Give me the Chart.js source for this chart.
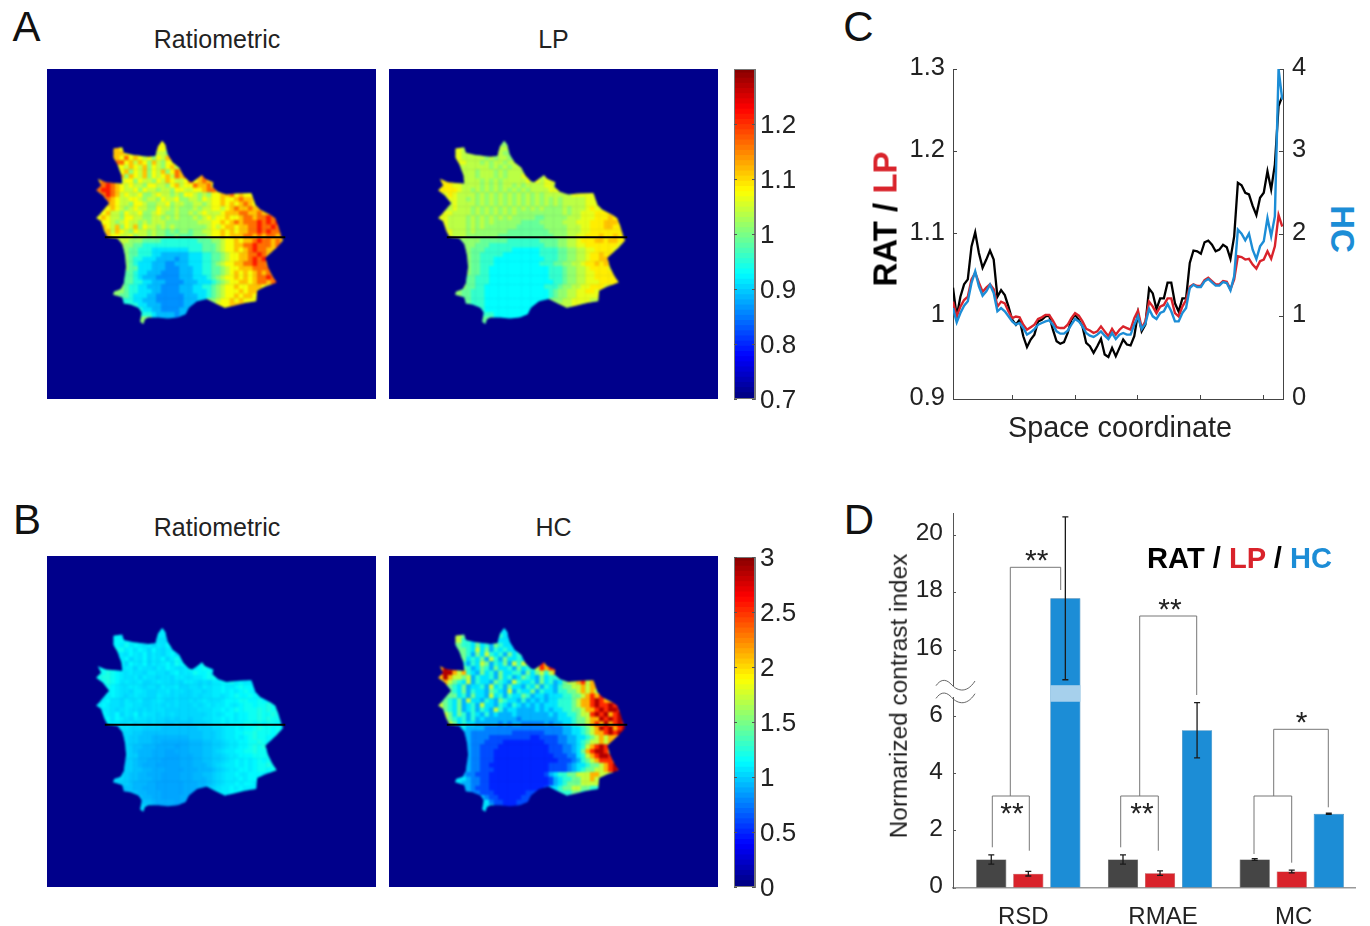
<!DOCTYPE html>
<html><head><meta charset="utf-8">
<style>
html,body{margin:0;padding:0;background:#fff;width:1370px;height:926px;overflow:hidden;font-family:"Liberation Sans",Arial,sans-serif;color:#222}
.t{position:absolute;white-space:nowrap;line-height:1;transform:translate(-50%,-50%)}
.p{position:absolute;background:#00008b;overflow:hidden}
canvas{position:absolute;display:block}
</style>
<script src="https://cdn.jsdelivr.net/npm/chart.js@4/dist/chart.umd.min.js"></script>
</head><body>
<script>
// ---------- DATA ----------
const gridSize = 70;
// which grid cells of each row belong to the cell outline: first row, then [from,to] column spans
const firstRow = 15;
const outlineSpans = [
[[24,24]],[[14,16],[23,25]],[[14,18],[23,25]],[[14,25]],[[15,26]],[[15,27]],[[15,28]],[[15,29]],
[[10,12],[15,34]],[[10,36]],[[10,37]],[[10,43]],[[11,44]],[[12,44]],[[12,45]],[[11,46]],[[10,48]],[[10,49]],[[11,49]],[[11,50]],[[12,50]],
[[15,50]],[[15,49]],[[16,48]],[[16,47]],[[16,47]],[[16,47]],[[16,48]],[[16,48]],[[16,49]],[[14,49]],[[15,46]],[[14,45]],[[16,45]],
[[16,33],[35,44]],[[18,30],[37,41]],[[19,29]],[[20,28]],[[20,20]]];
// the cell's contour
const contourPx = [[333,437],[360,433],[365,450],[395,457],[440,462],[462,460],[470,430],[483,413],[492,425],[500,455],[515,480],[535,495],[548,520],[565,537],[575,540],[590,530],[605,518],[615,530],[640,540],[638,555],[655,570],[680,578],[710,575],[757,573],[770,610],[785,625],[815,640],[830,650],[840,675],[850,710],[855,718],[835,740],[800,772],[808,800],[820,825],[835,848],[800,860],[775,872],[772,905],[740,910],[700,920],[675,925],[640,908],[620,898],[590,905],[565,925],[555,945],[530,955],[500,958],[470,955],[440,955],[430,960],[425,975],[415,968],[420,940],[410,925],[385,915],[365,912],[360,893],[332,885],[335,875],[355,868],[365,850],[372,800],[368,760],[360,730],[345,712],[315,708],[305,690],[295,660],[280,650],[290,640],[305,622],[320,605],[300,580],[280,565],[295,550],[285,530],[310,540],[360,545],[358,520],[345,485],[333,465]];
const ratLevels = {0:.86,1:.885,2:.91,3:.945,4:.98,5:1.01,6:1.04,7:1.07,8:1.11,9:1.16,a:1.21};
const ratRows = ["7","878776","88776665","879787675768","978687586577","7687685765786","78576857685798","858768576786989",
"89967757665768766797898","99a987676657766578677988977","9aa9876675766566577667789987","89a9867667556766565776565778897877",
"8987667765665766755665767787789887","887665776556675665566567787878987","7876567665576656555656677678988988",
"786657667556765565565676667888998898","7876657766556656565556567677877899899a9","87765676656566655555556667787898999a9a9a",
"8768576857665656555555567678878899a99a9","7868765766565545455455667787878899a9a998","877667566565544544455567787888998989989",
"665554444333333334445567787889a99898","65544333333333333344456778899a99989","5443332222222233344456778789a9988",
"54433322111111222334456778899a98","5433222111101122233445677889a9a8","5432221110011122233456778899a998",
"544222111000111223344567788899998","443221110000111223344567878789898","4432111000001112223456778787899a98",
"65443322111000011122234567788789989a","54332211100001112233456778778887","55433222110000111222345677787887",
"432221100000011122345677878877","3322111000000111225677878777","322111000001177888","32211000011","332111101","5"];
const lpLevels = {2:.925,3:.955,4:.985,5:1.01,6:1.035,7:1.06,8:1.085,9:1.11};
const lpRows = ["5","767665","76665655","766666565665","766656566566","6666665656566","66656665656666","666566656566677",
"88866665656566666767677","8887766665656566565666677677","8888766565656565656566667777","7787666656565656565656566666677777",
"7776656565656565656565656566666777","676666565656565656565656566666777","6766656565656565656565555656667877",
"776666565656565655555555556566777888","776666565656565655555445555566677788898","7766665656565555554444555556667778889998",
"766665656555555544444455555666778889988","7766656555555544444444455556667788888888","766655555554444444444445556677888988988",
"555544444433333334444556678889989988","55544433333333333344455667788888887","544433333322222233334455667788887",
"54433333222222223333445566788988","54433322222222222333445566788998","54433322222222223334455667889898",
"544332222222222222333455667888878","544332222222222222333455667788888","4433322222222222223334556677888888",
"554433322222222222222334556677788887","54433222222222222233345566778887","54433322222222222222345566778877",
"433322222222222222345566777776","4333222222222222225566777766","332222222222266776","32222222222","332222222","4"];
const hcLevels = {0:.48,1:.6,2:.75,3:.9,4:1.05,5:1.25,6:1.45,7:1.7,8:2.1,9:2.5,a:2.85};
const hcRows = ["4","765543","75545444","655464536544","654746354544","6536475453645","64546375364454","535476354637576",
"8a965346536445364557989","9aa878543645364455364675789878","8a87767354453645346543645567897","7876547354436543754453645346778978",
"7654634453745364435463543566778788","654635443654373544635443556678787","6645364437453544653443444556678989",
"654637443543654435343434455567889a98","7654634537443543543434344455567889a99a9","76546345354375344333343434455667889a9aa9",
"764653543534333433333334344556779a9a89a","7654535343333333233333333444566788a9a9a9","7645443333323233222223233445667898a89a9",
"433332222222222222222233445678a9a89a","33222222222111111122223344567889a9a","322221111111110011112233445678788",
"32221111000000000111223345677878","32211110000000000011122345789a98","3221110000000000001112234689aa97",
"32211100000000000001112245789aa98","322111000000000000001112356789998","32211000000000000011112344566789a9",
"4332211100000000000011112345667789a9","32211100000000000013455667778877","44322110000000000000134556677877",
"322110000000000000134566677776","3211100000000000014566776655","211100000001155665","32110000011","421100011","4"];

const ratTrace = [1.035,1,1.024,1.039,1.045,1.085,1.102,1.077,1.059,1.069,1.08,1.069,1.024,1.032,1.026,1.012,.996,.99,.996,.976,.963,.972,.978,.994,.996,1,1.001,.984,.97,.967,.969,.98,.996,1.002,.996,.988,.968,.964,.956,.964,.973,.954,.951,
.962,.952,.962,.972,.966,.965,.976,1.004,.982,.99,1.034,1.028,1.009,1.022,1.022,1.041,1.041,1.016,1.006,1.022,1.022,1.065,1.08,1.079,1.076,1.09,1.092,1.087,1.079,1.081,1.087,1.084,1.07,1.097,1.162,1.159,1.15,1.148,1.134,1.123,1.144,1.15,1.176,1.154,1.184,1.255,1.267];
const lpTrace = [1.018,1,1.012,1.02,1.024,1.045,1.053,1.041,1.03,1.035,1.039,1.033,1.012,1.018,1.016,1.006,.998,1,.999,.99,.984,.987,.99,.997,.999,1.002,1.002,.995,.987,.986,.986,.99,.998,1.004,1.001,.994,.985,.983,.98,.982,.988,.982,.976,
.985,.978,.984,.988,.986,.984,.998,1.007,.986,.994,1.018,1.012,1.004,1.012,1.014,1.022,1.022,1.004,1,1.012,1.02,1.036,1.039,1.037,1.037,1.044,1.047,1.043,1.039,1.039,1.043,1.042,1.033,1.045,1.073,1.072,1.069,1.07,1.063,1.058,1.067,1.069,1.079,1.07,1.085,1.123,1.109];
const hcTrace = [1.103,.929,1.042,1.131,1.184,1.406,1.547,1.366,1.253,1.305,1.386,1.285,1.063,1.103,1.063,1.002,.941,.901,.921,.861,.78,.808,.848,.901,.921,.941,.954,.901,.82,.792,.792,.828,.901,.97,.941,.881,.8,.768,.752,.78,.82,.768,.727,
.8,.727,.78,.8,.78,.78,.901,1.002,.848,.913,1.091,1.002,.97,1.042,1.063,1.152,1.063,.941,.941,1.042,1.103,1.345,1.386,1.358,1.358,1.426,1.455,1.414,1.374,1.374,1.418,1.406,1.317,1.487,2.053,2.004,1.923,2.004,1.81,1.697,1.851,1.911,2.194,1.972,2.214,4,3.63];
const traceTicks = [16,33,50,67,84];
const ratioTicks = [.9,1,1.1,1.2,1.3];
const hcAxisTicks = [0,1,2,3,4];

const barLabels = ["RSD","RMAE","MC"];
const barRat = [1,1,1];
const barLp = [.5,.52,.58];
const barHc = [17.8,5.53,2.6];
const errRat = [.16,.16,.03];
const errLp = [.08,.08,.05];
const errHc = [2.83,.97,.02];
const contrastTicks = [0,2,4,6,16,18,20];
const cbTicksA = [.7,.8,.9,1,1.1,1.2];
const cbTicksB = [0,.5,1,1.5,2,2.5,3];

// ---------- HELPERS ----------
const FONT = '"Liberation Sans"';
const INK = '#222', RED = '#d9232b', BLUE = '#1c8dd6';
Chart.defaults.animation = false;
Chart.defaults.responsive = false;
Chart.defaults.font.family = FONT;
Chart.defaults.color = INK;
Chart.defaults.plugins.legend.display = false;
Chart.defaults.plugins.tooltip.enabled = false;

// linear scale whose tick labels can sit a little above or below their ticks
class ShiftLinear extends Chart.LinearScale {
  _computeLabelItems(area) {
    const items = super._computeLabelItems(area), d = this.options.labelShift || 0;
    items.forEach(it => { it.options.translation = [it.options.translation[0], it.options.translation[1] + d]; });
    return items;
  }
}
ShiftLinear.id = 'shiftLinear';
ShiftLinear.defaults = Chart.LinearScale.defaults;
Chart.register(ShiftLinear);

function text(html, x, y, size, extra) {
  const d = document.createElement('div');
  d.className = 't'; d.innerHTML = html;
  d.style.left = x + 'px'; d.style.top = y + 'px'; d.style.fontSize = size + 'px';
  if (extra) Object.assign(d.style, extra);
  document.body.appendChild(d);
  return d;
}
function canvas(parent, x, y, w, h) {
  const c = document.createElement('canvas');
  c.width = w; c.height = h; c.style.left = x + 'px'; c.style.top = y + 'px';
  c.style.width = w + 'px'; c.style.height = h + 'px';
  parent.appendChild(c);
  return c.getContext('2d');
}
function jet(t) {
  const f = k => Math.round(255 * Math.max(0, Math.min(1, 1.5 - Math.abs(4 * t - k))));
  return `rgb(${f(3)},${f(2)},${f(1)})`;
}
function fixedTicks(vals) { return s => { s.ticks = vals.map(v => ({value: v})); }; }
function noMarginsV(w) { return s => { s.width = w; s.paddingTop = 0; s.paddingBottom = 0; }; }
function noMarginsH(h) { return s => { s.height = h; s.paddingLeft = 0; s.paddingRight = 0; }; }

// ---------- HEAT PANELS ----------
const contourGrid = contourPx.map(([a, b]) => [(a / 3 - 47) / 4.7, (b / 3 - 68.5) / 4.7]);
function heatPanel(x, y, w, h, rows, levels, lo, hi) {
  const div = document.createElement('div');
  div.className = 'p';
  Object.assign(div.style, {left: x + 'px', top: y + 'px', width: w + 'px', height: h + 'px'});
  document.body.appendChild(div);
  const cell = new Map();
  outlineSpans.forEach((spans, i) => {
    const s = rows[i]; let k = 0;
    spans.forEach(([a, b]) => {
      for (let c = a; c <= b; c++) {
        cell.set(c + ',' + (firstRow + i), s[Math.min(k, s.length - 1)]); k++;
      }
    });
  });
  const pts = [], cols = [];
  for (let r = firstRow - 2; r < firstRow + outlineSpans.length + 2; r++) for (let c = 7; c <= 53; c++) {
    let ch = cell.get(c + ',' + r);
    // cells just outside the span table borrow their neighbour, the contour trims them
    for (let d = 1; d <= 3 && !ch; d++) {
      for (const [dx, dy] of [[d,0],[-d,0],[0,d],[0,-d],[d,d],[-d,d],[d,-d],[-d,-d]]) {
        ch = cell.get((c + dx) + ',' + (r + dy)); if (ch) break;
      }
    }
    if (!ch) continue;
    pts.push({x: c + .5, y: r + .5});
    cols.push(jet((levels[ch] - lo) / (hi - lo)));
  }
  const scales = {
    x: {type: 'linear', min: 0, max: gridSize, display: false},
    y: {type: 'linear', min: 0, max: gridSize, reverse: true, display: false}
  };
  const ctx = canvas(div, 0, 0, w, h);
  ctx.canvas.style.filter = 'blur(0.8px)';
  new Chart(ctx, {
    type: 'scatter',
    data: {datasets: [{data: pts, backgroundColor: cols, pointStyle: 'rect', pointRadius: 3.6, borderWidth: 0}]},
    options: {layout: {padding: 0}, scales},
    plugins: [{id: 'contourClip',
      beforeDatasetDraw(c) {
        const g = c.ctx;
        g.save(); g.beginPath();
        contourGrid.forEach(([a, b], i) => {
          const px = c.scales.x.getPixelForValue(a), py = c.scales.y.getPixelForValue(b);
          i ? g.lineTo(px, py) : g.moveTo(px, py);
        });
        g.closePath(); g.clip();
      },
      afterDatasetDraw(c) { c.ctx.restore(); }
    }]
  });
  new Chart(canvas(div, 0, 0, w, h), {
    type: 'scatter',
    data: {datasets: [{showLine: true, data: [{x: 12.3, y: 35.7}, {x: 50.7, y: 35.7}], borderColor: '#000', borderWidth: 2, pointRadius: 0}]},
    options: {layout: {padding: 0}, scales}
  });
}
heatPanel(47, 68.5, 329, 330.5, ratRows, ratLevels, .7, 1.3);
heatPanel(389, 68.5, 329, 330.5, lpRows, lpLevels, .7, 1.3);
heatPanel(47, 556, 329, 331, ratRows, ratLevels, 0, 3);
heatPanel(389, 556, 329, 331, hcRows, hcLevels, 0, 3);

// ---------- COLOUR BARS ----------
function colorBar(top, height, lo, hi, ticks) {
  const ctx = canvas(document.body, 734, top - 16, 80, height + 32);
  const n = 64, step = (hi - lo) / n, ds = [];
  for (let i = 0; i < n; i++) {
    const a = lo + i * step;
    ds.push({data: [[a, Math.min(hi, a + step * 1.25)]], backgroundColor: jet((i + .5) / n), borderWidth: 0, grouped: false,
      barPercentage: 1, categoryPercentage: 1});
  }
  new Chart(ctx, {
    type: 'bar',
    data: {labels: [''], datasets: ds},
    options: {
      layout: {padding: {top: 16, bottom: 16, left: 0, right: 0}},
      scales: {
        x: {display: false},
        y: {type: 'shiftLinear', labelShift: 2, position: 'right', min: lo, max: hi, afterBuildTicks: fixedTicks(ticks), afterFit: noMarginsV(59),
          grid: {drawOnChartArea: false, drawTicks: false},
          border: {color: '#777'},
          ticks: {padding: 5, font: {size: 26}, color: INK, callback: v => String(+v.toFixed(1)), autoSkip: false}}
      }
    },
    plugins: [{id: 'frame', afterDraw(c) {
      const a = c.chartArea, g = c.ctx;
      g.save(); g.strokeStyle = '#777'; g.lineWidth = 1;
      g.strokeRect(a.left + .5, a.top + .5, a.width - 1, a.height - 1);
      g.strokeStyle = '#555';
      const sc = c.scales.y;
      ticks.forEach(v => { const p = Math.round(sc.getPixelForValue(v)) + .5; g.beginPath(); g.moveTo(a.left, p); g.lineTo(a.left + 3, p); g.moveTo(a.right, p); g.lineTo(a.right - 3, p); g.stroke(); });
      g.restore();
    }}]
  });
}
colorBar(69, 330, .7, 1.3, cbTicksA);
colorBar(557, 330, 0, 3, cbTicksB);

// ---------- PANEL C ----------
const axisCol = '#444';
const tr = a => a.map((y, i) => ({x: i, y}));
new Chart(canvas(document.body, 895, 50, 425, 365), {
  type: 'line',
  data: {datasets: [
    {data: tr(ratTrace), borderColor: '#000', borderWidth: 2.3, pointRadius: 0, yAxisID: 'y', order: 3},
    {data: tr(lpTrace), borderColor: RED, borderWidth: 2.4, pointRadius: 0, yAxisID: 'y', order: 2},
    {data: tr(hcTrace), borderColor: BLUE, borderWidth: 2.4, pointRadius: 0, yAxisID: 'y2', order: 1}
  ]},
  options: {
    layout: {padding: {top: 19}},
    scales: {
      x: {type: 'linear', min: 0, max: 89.2, afterBuildTicks: fixedTicks(traceTicks), afterFit: noMarginsH(16),
        grid: {drawOnChartArea: false, tickLength: -4, color: axisCol}, border: {color: axisCol}, ticks: {display: false}},
      y: {type: 'shiftLinear', labelShift: -1.5, position: 'left', min: .9, max: 1.3, afterBuildTicks: fixedTicks(ratioTicks), afterFit: noMarginsV(58),
        grid: {drawOnChartArea: false, tickLength: -4, color: axisCol}, border: {color: axisCol},
        ticks: {padding: 12, font: {size: 25.5}, color: INK, callback: v => String(+v.toFixed(1)), autoSkip: false}},
      y2: {type: 'shiftLinear', labelShift: -1.5, position: 'right', min: 0, max: 4, afterBuildTicks: fixedTicks(hcAxisTicks), afterFit: noMarginsV(37),
        grid: {drawOnChartArea: false, tickLength: -4, color: axisCol}, border: {color: axisCol},
        ticks: {padding: 13, font: {size: 25.5}, color: INK, callback: v => String(v), autoSkip: false}}
    }
  }
});

// ---------- PANEL D ----------
const upperStart = 16, unitLow = 28.5, unitHigh = 28.75, upperOffset = 237.7, axisPx = 374.7;
class BrokenScale extends ShiftLinear {
  getPixelForValue(v) {
    const off = v <= 7.5 ? v * unitLow : (v - upperStart) * unitHigh + upperOffset;
    return this.getPixelForDecimal(off / axisPx);
  }
}
BrokenScale.id = 'brokenLinear';
BrokenScale.defaults = Chart.LinearScale.defaults;
const labelNudge = [-5, 3, 2];
class ShiftedCategory extends Chart.CategoryScale {
  configure() { super.configure(); this._startValue = -.5718; this._valueRange = 3.052; }
  getPixelForTick(i) { return super.getPixelForTick(i) + labelNudge[i]; }
}
ShiftedCategory.id = 'shiftedCategory';
ShiftedCategory.defaults = Chart.CategoryScale.defaults;
Chart.register(BrokenScale, ShiftedCategory);

const errs = [errRat, errLp, errHc];
const brackets = [
  [[992.3,847.3],[992.3,796],[1029.3,796],[1029.3,850.7]],
  [[1010.3,796],[1010.3,567.3],[1060.7,567.3],[1060.7,590]],
  [[1120.7,847.3],[1120.7,796],[1158.3,796],[1158.3,850.7]],
  [[1139.7,796],[1139.7,616],[1196.7,616],[1196.7,695]],
  [[1254,854],[1254,796],[1291.7,796],[1291.7,862.7]],
  [[1273.7,796],[1273.7,729.3],[1328.3,729.3],[1328.3,807.3]]
];
const stars = [["**",1012,808],["**",1036.7,555.7],["**",1142,808],["**",1170,604],["*",1301.7,717]];
const OX = 905, OY = 500;
new Chart(canvas(document.body, OX, OY, 455, 426), {
  type: 'bar',
  data: {labels: barLabels, datasets: [
    {data: barRat, backgroundColor: '#454545', borderColor: '#333', borderWidth: .6},
    {data: barLp, backgroundColor: RED, borderColor: '#a8262a', borderWidth: .6},
    {data: barHc, backgroundColor: BLUE, borderColor: '#1a6fa8', borderWidth: .6}
  ]},
  options: {
    layout: {padding: {top: 13, right: 5}},
    datasets: {bar: {categoryPercentage: .85, barPercentage: .815}},
    scales: {
      x: {type: 'shiftedCategory', afterFit: noMarginsH(38),
        grid: {display: false, drawTicks: false}, border: {color: '#999', width: 1.6},
        ticks: {padding: 15, font: {size: 24}, color: INK, maxRotation: 0, autoSkip: false}},
      y: {type: 'brokenLinear', labelShift: -2, min: 0, max: 20.76, afterBuildTicks: fixedTicks(contrastTicks), afterFit: noMarginsV(48),
        grid: {drawOnChartArea: false, tickLength: -3, color: '#555'}, border: {color: '#555'},
        ticks: {padding: 13, font: {size: 24.5}, color: INK, callback: v => String(v), autoSkip: false}}
    }
  },
  plugins: [{id: 'annot', afterDatasetsDraw(c) {
    const g = c.ctx, ys = c.scales.y;
    // pale band where the tall bar crosses the axis break
    const b = c.getDatasetMeta(2).data[0];
    g.save();
    g.fillStyle = '#a6d0ec';
    const t = ys.getPixelForValue(7.11), u = ys.getPixelForValue(6.53);
    g.fillRect(b.x - b.width / 2, t, b.width, u - t);
    // error bars
    errs.forEach((arr, di) => {
      c.getDatasetMeta(di).data.forEach((el, i) => {
        const v = c.data.datasets[di].data[i], hi = ys.getPixelForValue(v + arr[i]), lo = ys.getPixelForValue(v - arr[i]);
        g.strokeStyle = '#1a1a1a'; g.lineWidth = 1.3;
        g.beginPath(); g.moveTo(el.x, hi); g.lineTo(el.x, lo);
        g.moveTo(el.x - 3, hi); g.lineTo(el.x + 3, hi); g.moveTo(el.x - 3, lo); g.lineTo(el.x + 3, lo); g.stroke();
      });
    });
    // significance brackets
    g.translate(-OX, -OY);
    g.strokeStyle = '#777'; g.lineWidth = 1;
    brackets.forEach(p => { g.beginPath(); p.forEach((q, i) => i ? g.lineTo(q[0], q[1]) : g.moveTo(q[0], q[1])); g.stroke(); });
    g.fillStyle = INK; g.font = '30px ' + FONT; g.textAlign = 'center'; g.textBaseline = 'alphabetic';
    stars.forEach(s => g.fillText(s[0], s[1], s[2] + 14.5));
    // axis break marks
    g.fillStyle = '#fff'; g.fillRect(950, 686, 7, 11);
    g.strokeStyle = '#555'; g.lineWidth = .9;
    [0, 12.7].forEach(d => {
      g.beginPath(); g.moveTo(936, 685.7 + d);
      g.bezierCurveTo(940, 680 + d, 945, 678 + d, 951, 684 + d);
      g.bezierCurveTo(956, 690 + d, 966, 695 + d, 975, 681 + d);
      g.stroke();
    });
    g.restore();
  }}]
});

// ---------- TEXT ----------
text('A', 26.5, 27, 42, {color: '#111'});
text('B', 27, 520, 42, {color: '#111'});
text('C', 858.5, 27, 42, {color: '#111'});
text('D', 859, 520, 42, {color: '#111'});
text('Ratiometric', 217, 38.5, 25);
text('LP', 553.5, 38.5, 25);
text('Ratiometric', 217, 526.5, 25);
text('HC', 553.5, 526.5, 25);
text('Space coordinate', 1120, 427, 28.8);
text(`RAT / <span style="color:${RED}">LP</span>`, 885, 218.5, 33, {transform: 'translate(-50%,-50%) rotate(-90deg)', fontWeight: 'bold', color: '#000'});
text('HC', 1342, 228.5, 33, {transform: 'translate(-50%,-50%) rotate(90deg)', fontWeight: 'bold', color: BLUE});
text('Normarized contrast index', 899, 695.5, 24.4, {transform: 'translate(-50%,-50%) rotate(-90deg)'});
text(`RAT / <span style="color:${RED}">LP</span> / <span style="color:${BLUE}">HC</span>`, 1239.5, 559, 29.1, {fontWeight: 'bold', color: '#000'});
</script>
</body></html>
